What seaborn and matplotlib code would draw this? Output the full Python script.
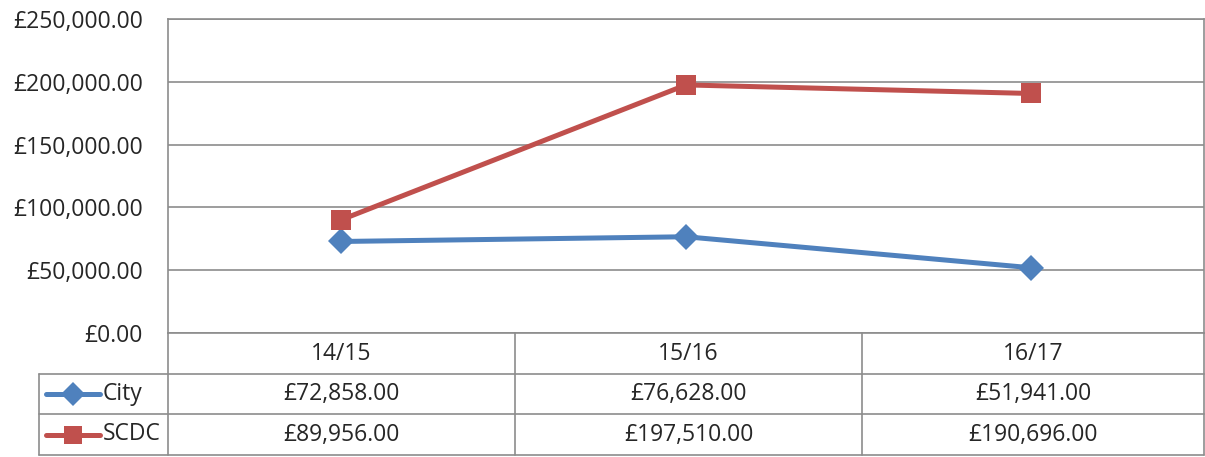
import matplotlib
matplotlib.use("Agg")
import matplotlib.pyplot as plt
import pandas as pd
import seaborn as sns
from matplotlib.ticker import FuncFormatter

# data
years = ["14/15", "15/16", "16/17"]
city = [72858, 76628, 51941]
scdc = [89956, 197510, 190696]
series_names = ["City", "SCDC"]
colors = ["#4F81BD", "#C0504D"]

W, H = 1205, 457
GRID = "#8C8C8C"
FONT = "Open Sans"
FS = 16.5
LW = 3.6
MSIZE = {"City": 13, "SCDC": 14.5}
MARK = {"City": "D", "SCDC": "s"}


def money(v):
    return "\u00a3{:,.2f}".format(v)


def build_frame():
    rows = []
    for name, vals in zip(series_names, [city, scdc]):
        for i, (yr, v) in enumerate(zip(years, vals)):
            rows.append({"pos": i, "year": yr, "value": v, "series": name})
    return pd.DataFrame(rows)


sns.set_style("white")
plt.rcParams["font.family"] = [FONT, "DejaVu Sans"]

fig = plt.figure(figsize=(W / 100, H / 100), dpi=100)

# plot area in pixel terms
left, right, top, bottom = 168, 1204, 19, 333
ax = fig.add_axes([left / W, 1 - bottom / H, (right - left) / W, (bottom - top) / H])

df = build_frame()
sns.lineplot(data=df, x="pos", y="value", hue="series", style="series",
             markers=MARK, dashes=False,
             palette=dict(zip(series_names, colors)), linewidth=LW,
             markersize=12, markeredgewidth=0, legend=False, ax=ax)
for line, name in zip(ax.lines, series_names):
    line.set_markersize(MSIZE[name])

ax.set_xlim(-0.5, len(years) - 0.5)
ax.set_ylim(0, 250000)
ax.set_yticks(range(0, 250001, 50000))
ax.yaxis.set_major_formatter(FuncFormatter(lambda v, p: money(v)))
ax.tick_params(axis="y", labelsize=FS, length=0, pad=18)
ax.set_xticks([])
ax.set_xlabel("")
ax.set_ylabel("")
ax.grid(axis="y", color=GRID, linewidth=1.2)
ax.set_axisbelow(True)
for s in ax.spines.values():
    s.set_color(GRID)
    s.set_linewidth(1.2)

# data table drawn on an overlay in pixel coordinates
tab = fig.add_axes([0, 0, 1, 1], facecolor="none")
tab.set_xlim(0, W)
tab.set_ylim(H, 0)
tab.axis("off")

col_edges = [left, 515, 862, right]
row_edges = [bottom, 374, 414, 455]
lab_left = 39
lkw = dict(color=GRID, linewidth=1.2)

for y in row_edges[1:]:
    tab.plot([lab_left, right], [y, y], **lkw)
for x in col_edges:
    tab.plot([x, x], [bottom, row_edges[-1]], **lkw)
tab.plot([lab_left, lab_left], [row_edges[1], row_edges[-1]], **lkw)

for j, yr in enumerate(years):
    cx = (col_edges[j] + col_edges[j + 1]) / 2
    tab.text(cx, (row_edges[0] + row_edges[1]) / 2, yr, ha="center",
             va="center", fontsize=FS)

for i, (name, vals, c) in enumerate(zip(series_names, [city, scdc], colors)):
    cy = (row_edges[i + 1] + row_edges[i + 2]) / 2
    tab.plot([46, 100], [cy, cy], color=c, linewidth=LW,
             solid_capstyle="round")
    tab.plot([73], [cy], marker=MARK[name], color=c,
             markersize=MSIZE[name] - 1, markeredgewidth=0)
    tab.text(103, cy, name, ha="left", va="center", fontsize=FS)
    for j, v in enumerate(vals):
        cx = (col_edges[j] + col_edges[j + 1]) / 2
        tab.text(cx, cy, money(v), ha="center", va="center", fontsize=FS)

fig.savefig("out.png", dpi=100)
